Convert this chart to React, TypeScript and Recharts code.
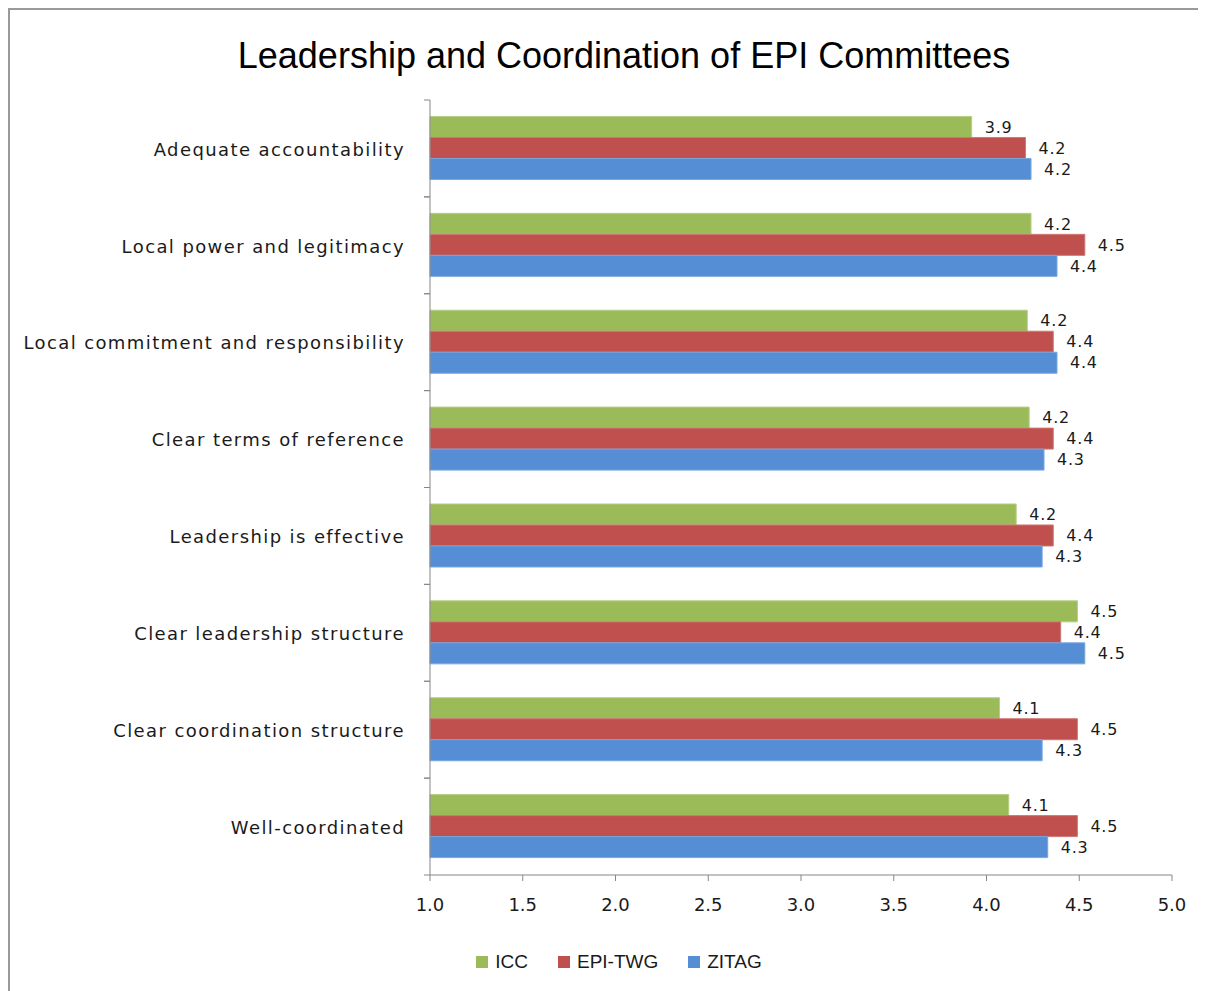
import React from "react";
import { BarChart, Bar, XAxis, YAxis, Legend, LabelList } from "recharts";

const CATEGORIES = [
  "Adequate accountability",
  "Local power and legitimacy",
  "Local commitment and responsibility",
  "Clear terms of reference",
  "Leadership is effective",
  "Clear leadership structure",
  "Clear coordination structure",
  "Well-coordinated",
];
const ICC = [3.92, 4.24, 4.22, 4.23, 4.16, 4.49, 4.07, 4.12];
const EPI_TWG = [4.21, 4.53, 4.36, 4.36, 4.36, 4.4, 4.49, 4.49];
const ZITAG = [4.24, 4.38, 4.38, 4.31, 4.3, 4.53, 4.3, 4.33];
const X_TICKS = [1, 1.5, 2, 2.5, 3, 3.5, 4, 4.5, 5];
const SERIES_ORDER = ["ICC", "EPI-TWG", "ZITAG"];

const data = CATEGORIES.map((name, i) => ({
  name,
  icc: ICC[i],
  epi: EPI_TWG[i],
  zitag: ZITAG[i],
}));

const AXIS = "#868686";
const LABEL_FONT = "'DejaVu Sans', Verdana, sans-serif";

function CategoryTick(props: any) {
  const { x, y, payload } = props;
  const half = payload?.offset ?? 0;
  const axisX = x + 25;
  return (
    <g>
      <line x1={axisX - 6} x2={axisX} y1={y - half} y2={y - half} stroke={AXIS} />
      <line x1={axisX - 6} x2={axisX} y1={y + half} y2={y + half} stroke={AXIS} />
      <text
        x={x}
        y={y + 1}
        dy="0.35em"
        textAnchor="end"
        fontSize={18}
        letterSpacing={1.4}
        fill="#1a1a1a"
        fontFamily={LABEL_FONT}
      >
        {payload.value}
      </text>
    </g>
  );
}

function LegendContent(props: any) {
  const items = [...(props.payload || [])].sort(
    (a: any, b: any) => SERIES_ORDER.indexOf(a.value) - SERIES_ORDER.indexOf(b.value)
  );
  return (
    <div style={{ display: "flex", justifyContent: "center", gap: 30, marginLeft: 56 }}>
      {items.map((it: any) => (
        <div key={it.value} style={{ display: "flex", alignItems: "center" }}>
          <span style={{ width: 12, height: 12, background: it.color, display: "inline-block", marginRight: 7 }} />
          <span style={{ fontFamily: "'Liberation Sans', Arial, sans-serif", fontSize: 19, color: "#1a1a1a" }}>
            {it.value}
          </span>
        </div>
      ))}
    </div>
  );
}

const fmt = (v: any) => Number(v).toFixed(1);

export default function App() {
  return (
    <div
      style={{
        position: "relative",
        width: 1198,
        height: 983,
        borderTop: "2px solid #9a9a9a",
        borderLeft: "2px solid #9a9a9a",
        boxSizing: "border-box",
        background: "#fff",
      }}
    >
      <div
        style={{
          position: "absolute",
          top: 25,
          left: 0,
          width: 1228,
          textAlign: "center",
          fontFamily: "'Liberation Sans', Arial, sans-serif",
          fontSize: 36,
          color: "#000",
        }}
      >
        Leadership and Coordination of EPI Committees
      </div>
      <BarChart
        width={1196}
        height={981}
        data={data}
        layout="vertical"
        margin={{ top: 90, right: 34, left: 0, bottom: 18 }}
        barCategoryGap="17%"
        barGap={0}
      >
        <XAxis
          type="number"
          domain={[1, 5]}
          ticks={X_TICKS}
          tickFormatter={fmt}
          stroke={AXIS}
          tickSize={6}
          tickMargin={17}
          height={76}
          tick={{ fontSize: 18, fill: "#1a1a1a", fontFamily: LABEL_FONT }}
        />
        <YAxis
          type="category"
          dataKey="name"
          width={420}
          stroke={AXIS}
          tickLine={false}
          tickSize={0}
          tickMargin={25}
          interval={0}
          tick={<CategoryTick />}
        />
        <Legend verticalAlign="bottom" align="center" content={<LegendContent />} />
        <Bar dataKey="icc" name="ICC" fill="#9BBB59" stroke="#b5cf85" isAnimationActive={false}>
          <LabelList dataKey="icc" position="right" offset={13} formatter={fmt} fontSize={16} letterSpacing={0.8} fill="#1a1a1a" fontFamily={LABEL_FONT} />
        </Bar>
        <Bar dataKey="epi" name="EPI-TWG" fill="#C0504D" stroke="#cf7875" isAnimationActive={false}>
          <LabelList dataKey="epi" position="right" offset={13} formatter={fmt} fontSize={16} letterSpacing={0.8} fill="#1a1a1a" fontFamily={LABEL_FONT} />
        </Bar>
        <Bar dataKey="zitag" name="ZITAG" fill="#558ED5" stroke="#78a6de" isAnimationActive={false}>
          <LabelList dataKey="zitag" position="right" offset={13} formatter={fmt} fontSize={16} letterSpacing={0.8} fill="#1a1a1a" fontFamily={LABEL_FONT} />
        </Bar>
      </BarChart>
    </div>
  );
}
